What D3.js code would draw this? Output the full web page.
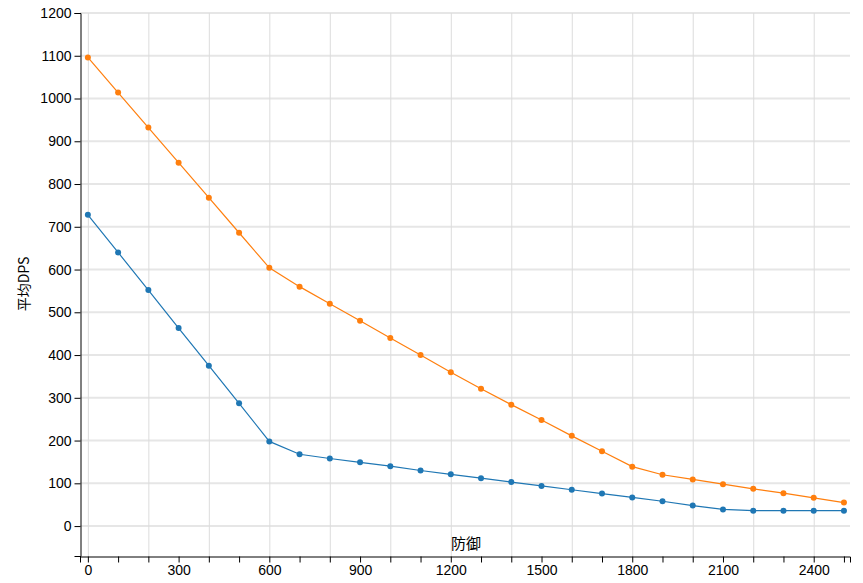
<!DOCTYPE html>
<html>
<head>
<meta charset="utf-8">
<script src="https://cdn.jsdelivr.net/npm/d3@7"></script>
<style>
  html, body { margin: 0; padding: 0; background: #fff; }
  svg { display: block; font-family: "Liberation Sans", Arial, sans-serif; }
</style>
</head>
<body>
<svg id="chart" width="863" height="583"></svg>
<script>
const defense = [0,100,200,300,400,500,600,700,800,900,1000,1100,1200,1300,1400,1500,1600,1700,1800,1900,2000,2100,2200,2300,2400,2500];
const seriesBlue = [728,640,552,463,375,287,198,168,158,149,140,130,121,112,103,94,85,76,67,58,48,39,36,36,36,36];
const seriesOrange = [1096,1014,932,850,768,686,604,560,520,480,440,400,360,321,284,248,211,175,139,120,109,98,87,77,66,55];
const yTicks = [0,100,200,300,400,500,600,700,800,900,1000,1100,1200];
const xTickLabels = [0,300,600,900,1200,1500,1800,2100,2400];
const xLabel = "防御";
const yLabel = "平均DPS";

const svg = d3.select("#chart");
const x = d3.scaleLinear().domain([-26, 2520]).range([80, 850]);
const y = d3.scaleLinear().domain([-70, 1200]).range([556, 13]);

// grid
const grid = svg.append("g");
grid.selectAll("line.h").data(yTicks).enter().append("line")
  .attr("x1", 80).attr("x2", 850)
  .attr("y1", d => y(d)).attr("y2", d => y(d))
  .attr("stroke", "#e6e6e6").attr("stroke-width", 2);
grid.selectAll("line.v").data(d3.range(0, 2500, 200)).enter().append("line")
  .attr("x1", d => x(d) + 0.5).attr("x2", d => x(d) + 0.5)
  .attr("y1", 13).attr("y2", 556)
  .attr("stroke", "#dcdcdc").attr("stroke-width", 1);

// axes
const xAxis = d3.axisBottom(x).tickValues(d3.range(0, 2501, 100))
  .tickFormat(d => xTickLabels.includes(d) ? String(d) : "");
const yAxis = d3.axisLeft(y).tickValues(yTicks).tickFormat(d3.format("d"));

svg.append("g").attr("transform", "translate(0,556.5)").call(xAxis)
  .attr("font-size", 14).attr("font-family", "Liberation Sans, Arial, sans-serif")
  .call(g => g.selectAll("text").attr("fill", "#000"))
  .call(g => g.selectAll("path,line").attr("stroke", "#000"));
svg.append("g").attr("transform", "translate(80.5,0)").call(yAxis)
  .attr("font-size", 14).attr("font-family", "Liberation Sans, Arial, sans-serif")
  .call(g => g.selectAll("text").attr("fill", "#000"))
  .call(g => g.selectAll("path,line").attr("stroke", "#000"));

// labels
svg.append("text").attr("x", 466).attr("y", 549).attr("text-anchor", "middle")
  .attr("font-size", 15).attr("font-family", "Noto Sans CJK SC, sans-serif").attr("fill", "#000").text(xLabel);
svg.append("text").attr("transform", "translate(29,284) rotate(-90)").attr("text-anchor", "middle")
  .attr("font-size", 14).attr("font-family", "Noto Sans CJK SC, sans-serif").attr("fill", "#000").text(yLabel);

// lines
const line = d3.line().x(d => x(d[0])).y(d => y(d[1]));
const series = [
  { values: seriesBlue, color: "#1f77b4" },
  { values: seriesOrange, color: "#ff7f0e" }
];
series.forEach(s => {
  const pts = defense.map((d, i) => [d, s.values[i]]);
  svg.append("path").datum(pts).attr("d", line)
    .attr("fill", "none").attr("stroke", s.color).attr("stroke-width", 1.2);
  svg.append("g").selectAll("circle").data(pts).enter().append("circle")
    .attr("cx", d => x(d[0])).attr("cy", d => y(d[1])).attr("r", 3)
    .attr("fill", s.color);
});
</script>
</body>
</html>
